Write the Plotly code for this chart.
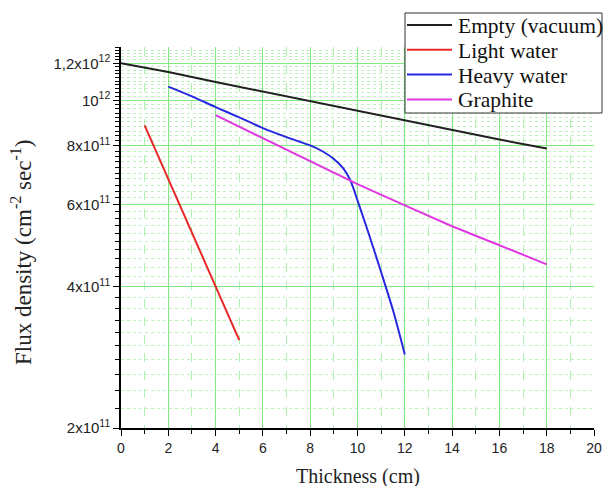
import plotly.graph_objects as go

# ---- data ----
empty_x = [0, 2, 4, 6, 8, 10, 12, 14, 16, 18]
empty_y = [1.2e12, 1.15e12, 1.095e12, 1.045e12, 0.995e12, 0.95e12, 0.905e12, 0.865e12, 0.825e12, 0.79e12]

light_x = [1, 2, 3, 4, 5]
light_y = [8.85e11, 6.8e11, 5.22e11, 4.0e11, 3.08e11]

heavy_x = [2, 3, 4, 5, 6, 7, 7.5, 8, 8.5, 9, 9.4, 9.7, 10, 10.5, 11, 11.5, 12]
heavy_y = [1.07e12, 1.02e12, 9.68e11, 9.2e11, 8.73e11, 8.35e11, 8.18e11, 8.02e11,
           7.8e11, 7.5e11, 7.16e11, 6.75e11, 6.12e11, 5.15e11, 4.3e11, 3.57e11, 2.87e11]

graph_x = [4, 6, 8, 10, 12, 14, 16, 18]
graph_y = [9.3e11, 8.3e11, 7.42e11, 6.63e11, 5.97e11, 5.39e11, 4.91e11, 4.47e11]

series_names = ["Empty (vacuum)", "Light water", "Heavy water", "Graphite"]
series_colors = ["#202020", "#e82828", "#2828e0", "#e038e0"]

y_tickvals = [2e11, 4e11, 6e11, 8e11, 1e12, 1.2e12]
y_ticktext = ["2x10<sup>11</sup>", "4x10<sup>11</sup>", "6x10<sup>11</sup>",
              "8x10<sup>11</sup>", "10<sup>12</sup>", "1,2x10<sup>12</sup>"]
x_tickvals = list(range(0, 21, 2))
x_minor_vals = list(range(1, 20, 2))
y_minor_vals = [v * 1e10 for v in range(22, 131, 2) if (v * 1e10) not in y_tickvals]

SERIF = "Liberation Serif"
SANS = "Liberation Sans"

# layout geometry (pixels)
W, H = 604, 486
ML, MR, MT, MB = 121, 10, 47, 58
PW, PH = W - ML - MR, H - MT - MB


def px_x(p):
    return (p - ML) / PW


def px_y(p):
    return (H - MB - p) / PH


fig = go.Figure()
series = [(empty_x, empty_y, "linear"), (light_x, light_y, "linear"),
          (heavy_x, heavy_y, "spline"), (graph_x, graph_y, "linear")]
for (xs, ys, shp), name, col in zip(series, series_names, series_colors):
    line = dict(color=col, width=2, shape=shp)
    if shp == "spline":
        line["smoothing"] = 0.8
    fig.add_trace(go.Scatter(x=xs, y=ys, mode="lines", name=name, line=line,
                             showlegend=False))

# hand-built legend box (to match the compact row spacing of the reference)
shapes = [dict(type="rect", xref="paper", yref="paper",
               x0=px_x(405), x1=px_x(602), y0=px_y(13), y1=px_y(113),
               line=dict(color="#333", width=1), fillcolor="white", layer="above")]
annotations = []
row0, rowgap = 25, 24.8
for i, (name, col) in enumerate(zip(series_names, series_colors)):
    yc = row0 + i * rowgap
    shapes.append(dict(type="line", xref="paper", yref="paper",
                       x0=px_x(407), x1=px_x(452), y0=px_y(yc), y1=px_y(yc),
                       line=dict(color=col, width=2), layer="above"))
    annotations.append(dict(text=name, xref="paper", yref="paper",
                            x=px_x(456), y=px_y(yc + 1), xanchor="left", yanchor="middle",
                            showarrow=False,
                            font=dict(family=SERIF, size=21.5, color="#111")))

annotations += [
    dict(text="Thickness (cm)", xref="paper", yref="paper", x=0.5, y=px_y(476),
         xanchor="center", yanchor="middle", showarrow=False,
         font=dict(family=SERIF, size=20, color="#222")),
    dict(text="Flux density (cm<sup>-2</sup> sec<sup>-1</sup>)", xref="paper", yref="paper",
         x=px_x(21), y=px_y(252), xanchor="center", yanchor="middle",
         textangle=-90, showarrow=False,
         font=dict(family=SERIF, size=23, color="#222")),
]

fig.update_layout(
    width=W, height=H,
    margin=dict(l=ML, r=MR, t=MT, b=MB, autoexpand=False),
    paper_bgcolor="white", plot_bgcolor="white",
    showlegend=False,
    xaxis=dict(range=[0, 20], tickmode="array", tickvals=x_tickvals,
               showline=True, linecolor="black", linewidth=1.5,
               ticks="outside", ticklen=6, tickcolor="black", tickwidth=1.2,
               tickfont=dict(family=SANS, size=14, color="#222"),
               showgrid=True, gridcolor="#80ea80", gridwidth=1.3, zeroline=False,
               minor=dict(tickmode="array", tickvals=x_minor_vals, ticks="outside",
                          ticklen=4, tickcolor="black", showgrid=True,
                          gridcolor="#b0f0b0", griddash="dash", gridwidth=1)),
    yaxis=dict(type="log", range=[11.30103, 12.114],
               tickmode="array", tickvals=y_tickvals, ticktext=y_ticktext,
               showline=True, linecolor="black", linewidth=1.5,
               ticks="outside", ticklen=6, tickcolor="black", tickwidth=1.2,
               tickfont=dict(family=SANS, size=15, color="#222"),
               showgrid=True, gridcolor="#80ea80", gridwidth=1.3, zeroline=False,
               minor=dict(tickmode="array", tickvals=y_minor_vals, ticks="outside",
                          ticklen=4, tickcolor="black", showgrid=True,
                          gridcolor="#bdf2bd", griddash="dot", gridwidth=1)),
    shapes=shapes,
    annotations=annotations,
)

fig.write_html("out.html")
